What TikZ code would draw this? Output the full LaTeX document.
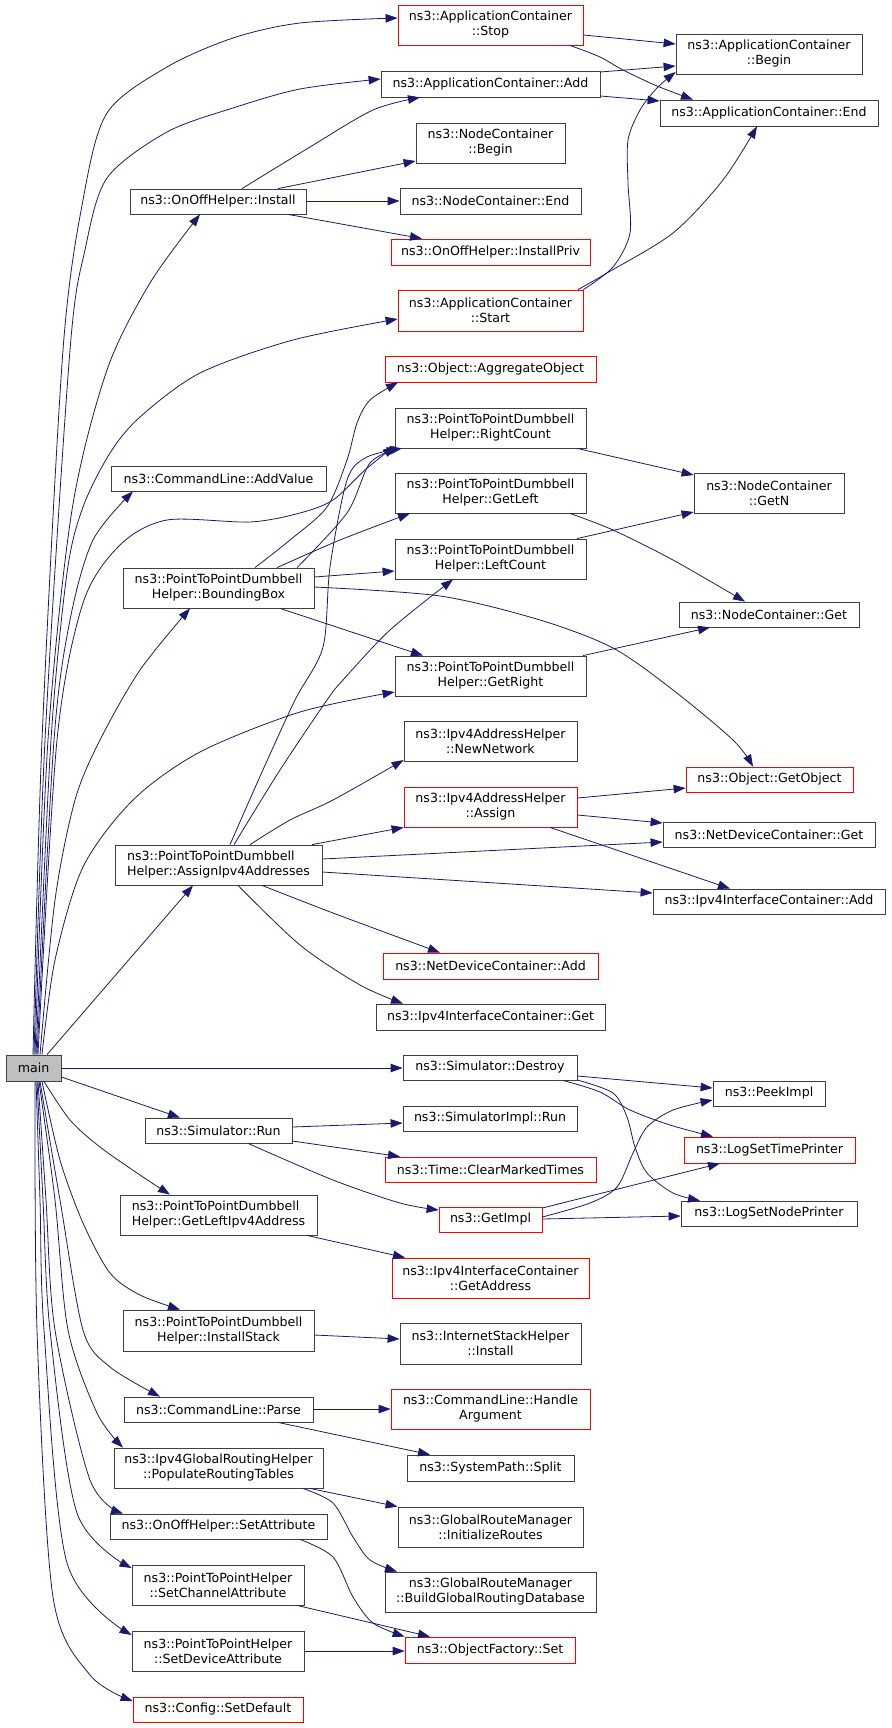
\documentclass[tikz,border=0pt]{standalone}
\usepackage{fontspec}
\setmainfont{DejaVu Sans}
\usetikzlibrary{arrows.meta}
\definecolor{edgeblue}{HTML}{191970}
\definecolor{maingray}{HTML}{BFBFBF}
\tikzset{
  fn/.style 2 args={draw=black!75, line width=0.8pt, fill=white, inner sep=0pt, align=center,
    minimum width=#1pt, minimum height=#2pt, font=\fontsize{12.6}{15}\selectfont},
  fnred/.style 2 args={fn={#1}{#2}, draw=red},
  callarrow/.style={draw=edgeblue, line width=0.8pt, -{Triangle[length=12pt,width=8.5pt]}},
}
\begin{document}
\begin{tikzpicture}[x=1pt,y=-1pt]
               \useasboundingbox (0,0) rectangle (891,1728);
               \node[fn={55}{26}, fill=maingray] (main) at (33.5,1068) {main};
               \node[fnred={185}{40}] (stop) at (490.5,25) {ns3::ApplicationContainer\\::Stop};
               \node[fn={219}{26}] (acadd) at (490.5,84) {ns3::ApplicationContainer::Add};
               \node[fn={186}{40}] (acbegin) at (769,54) {ns3::ApplicationContainer\\::Begin};
               \node[fn={218}{26}] (acend) at (769,113) {ns3::ApplicationContainer::End};
               \node[fn={149}{40}] (ncbegin) at (490.5,143) {ns3::NodeContainer\\::Begin};
               \node[fn={181}{26}] (ncend) at (490.5,201) {ns3::NodeContainer::End};
               \node[fnred={199}{26}] (installpriv) at (490.5,252) {ns3::OnOffHelper::InstallPriv};
               \node[fnred={185}{41}] (start) at (490.5,310.5) {ns3::ApplicationContainer\\::Start};
               \node[fn={176}{25}] (install) at (218,201.5) {ns3::OnOffHelper::Install};
               \node[fnred={211}{26}] (aggobj) at (490.5,369) {ns3::Object::AggregateObject};
               \node[fn={191}{40}] (rightcount) at (490.5,428) {ns3::PointToPointDumbbell\\Helper::RightCount};
               \node[fn={191}{40}] (getleft) at (490.5,493) {ns3::PointToPointDumbbell\\Helper::GetLeft};
               \node[fn={191}{40}] (leftcount) at (490.5,559) {ns3::PointToPointDumbbell\\Helper::LeftCount};
               \node[fn={191}{40}] (getright) at (490.5,676) {ns3::PointToPointDumbbell\\Helper::GetRight};
               \node[fn={215}{25}] (addvalue) at (218.5,478.5) {ns3::CommandLine::AddValue};
               \node[fn={191}{40}] (bbox) at (218.5,588) {ns3::PointToPointDumbbell\\Helper::BoundingBox};
               \node[fn={150}{40}] (getn) at (769,493) {ns3::NodeContainer\\::GetN};
               \node[fn={180}{25}] (ncget) at (769,614.5) {ns3::NodeContainer::Get};
               \node[fn={173}{40}] (newnetwork) at (490.5,741) {ns3::Ipv4AddressHelper\\::NewNetwork};
               \node[fnred={173}{40}] (assign) at (490.5,807) {ns3::Ipv4AddressHelper\\::Assign};
               \node[fnred={167}{25}] (getobject) at (769.5,779.5) {ns3::Object::GetObject};
               \node[fn={212}{25}] (ndcget) at (769,834.5) {ns3::NetDeviceContainer::Get};
               \node[fn={232}{25}] (iicadd) at (769,901.5) {ns3::Ipv4InterfaceContainer::Add};
               \node[fn={207}{40}, align=left] (assignip) at (218.5,865) {ns3::PointToPointDumbbell\\Helper::AssignIpv4Addresses};
               \node[fnred={215}{26}] (ndcadd) at (490.5,966) {ns3::NetDeviceContainer::Add};
               \node[fn={229}{26}] (iicget) at (490.5,1017) {ns3::Ipv4InterfaceContainer::Get};
               \node[fn={174}{25}] (destroy) at (490,1067.5) {ns3::Simulator::Destroy};
               \node[fn={174}{25}] (simimplrun) at (490,1118.5) {ns3::SimulatorImpl::Run};
               \node[fnred={211}{25}] (clearmarked) at (490.5,1169.5) {ns3::Time::ClearMarkedTimes};
               \node[fnred={103}{25}] (getimpl) at (490.5,1219.5) {ns3::GetImpl};
               \node[fnred={197}{40}] (getaddress) at (490.5,1278) {ns3::Ipv4InterfaceContainer\\::GetAddress};
               \node[fn={181}{41}] (ishinstall) at (490.5,1343.5) {ns3::InternetStackHelper\\::Install};
               \node[fn={112}{25}] (peekimpl) at (769,1093.5) {ns3::PeekImpl};
               \node[fnred={171}{26}] (logtime) at (769.5,1150) {ns3::LogSetTimePrinter};
               \node[fn={176}{25}] (lognode) at (769,1213.5) {ns3::LogSetNodePrinter};
               \node[fn={147}{25}] (simrun) at (218.5,1130.5) {ns3::Simulator::Run};
               \node[fn={197}{40}, align=left] (getleftip) at (218.5,1215) {ns3::PointToPointDumbbell\\Helper::GetLeftIpv4Address};
               \node[fn={191}{41}] (installstack) at (218.5,1330.5) {ns3::PointToPointDumbbell\\Helper::InstallStack};
               \node[fn={189}{25}] (parse) at (218.5,1409.5) {ns3::CommandLine::Parse};
               \node[fn={209}{40}] (populate) at (218.5,1468) {ns3::Ipv4GlobalRoutingHelper\\::PopulateRoutingTables};
               \node[fn={217}{25}] (setattr) at (218.5,1526.5) {ns3::OnOffHelper::SetAttribute};
               \node[fn={172}{40}] (setchan) at (218,1585) {ns3::PointToPointHelper\\::SetChannelAttribute};
               \node[fn={172}{40}] (setdev) at (218,1651) {ns3::PointToPointHelper\\::SetDeviceAttribute};
               \node[fnred={170}{25}] (setdefault) at (218,1709.5) {ns3::Config::SetDefault};
               \node[fnred={199}{40}] (handlearg) at (490.5,1409) {ns3::CommandLine::Handle\\Argument};
               \node[fn={167}{26}] (split) at (490.5,1468) {ns3::SystemPath::Split};
               \node[fn={185}{40}] (initroutes) at (490.5,1527) {ns3::GlobalRouteManager\\::InitializeRoutes};
               \node[fn={211}{40}] (buildgrd) at (490.5,1592) {ns3::GlobalRouteManager\\::BuildGlobalRoutingDatabase};
               \node[fnred={170}{26}] (ofset) at (490,1650) {ns3::ObjectFactory::Set};

               \draw[callarrow] plot[smooth] coordinates {(main.north -| 33,0) (42,740) (63,350) (83,200) (107,113) (167,67) (233,38) (300,23) (stop.west |- 0,18)};
               \draw[callarrow] plot[smooth] coordinates {(main.north -| 34,0) (45,740) (70,350) (85,250) (107,178) (167,132) (233,108) (300,89) (acadd.west |- 0,79)};
               \draw[callarrow] plot[smooth] coordinates {(main.north -| 35,0) (48,740) (72,510) (107,370) (150,283) (install.south -| 200,0)};
               \draw[callarrow] plot[smooth] coordinates {(main.north -| 36,0) (51,740) (67,573) (83,507) (110,453) (140,417) (200,373) (293,340) (start.west |- 0,319)};
               \draw[callarrow] plot[smooth] coordinates {(main.north -| 37,0) (54,740) (70,620) (93,540) (addvalue.south -| 133,0)};
               \draw[callarrow] plot[smooth] coordinates {(main.north -| 38,0) (57,740) (83,603) (120,545) (167,520) (250,522) (300,513) (333,500) (365,470) (rightcount.west |- 0,446)};
               \draw[callarrow] plot[smooth] coordinates {(main.north -| 40,0) (55,900) (75,800) (100,740) (140,670) (bbox.south -| 190,0)};
               \draw[callarrow] plot[smooth] coordinates {(main.north -| 42,0) (55,960) (83,867) (133,800) (200,752) (300,712) (getright.west |- 0,692)};
               \draw[callarrow] (main.north -| 47,0) -- (assignip.south -| 193,0);
               \draw[callarrow] (main.east |- 0,1068) -- (destroy.west |- 0,1068);
               \draw[callarrow] (main.east |- 0,1077) -- (simrun.north -| 180,0);
               \draw[callarrow] plot[smooth] coordinates {(main.south -| 44,0) (70,1120) (100,1147) (140,1175) (getleftip.north -| 170,0)};
               \draw[callarrow] plot[smooth] coordinates {(main.south -| 42,0) (60,1160) (83,1223) (110,1273) (140,1295) (installstack.north -| 180,0)};
               \draw[callarrow] plot[smooth] coordinates {(main.south -| 40,0) (60,1200) (83,1330) (110,1367) (parse.north -| 160,0)};
               \draw[callarrow] plot[smooth] coordinates {(main.south -| 39,0) (55,1200) (68,1330) (97,1413) (populate.north -| 123,0)};
               \draw[callarrow] plot[smooth] coordinates {(main.south -| 38,0) (46,1200) (55,1330) (90,1480) (setattr.north -| 123,0)};
               \draw[callarrow] plot[smooth] coordinates {(main.south -| 37,0) (43,1200) (50,1330) (77,1513) (setchan.west |- 0,1568)};
               \draw[callarrow] plot[smooth] coordinates {(main.south -| 36,0) (40,1200) (44,1330) (67,1563) (setdev.west |- 0,1635)};
               \draw[callarrow] plot[smooth] coordinates {(main.south -| 35,0) (37,1330) (53,1597) (90,1675) (setdefault.west |- 0,1701)};

               \draw[callarrow] plot[smooth] coordinates {(install.north -| 242,0) (310,147) (373,110) (acadd.south -| 420,0)};
               \draw[callarrow] (install.north -| 278,0) -- (ncbegin.west |- 0,161);
               \draw[callarrow] (install.east |- 0,201) -- (ncend.west |- 0,201);
               \draw[callarrow] (install.south -| 288,0) -- (installpriv.north -| 422,0);
               \draw[callarrow] (stop.east |- 0,35) -- (acbegin.west |- 0,44);
               \draw[callarrow] plot[smooth] coordinates {(stop.south -| 570,0) (600,57) (623,70) (657,86) (acend.north -| 693,0)};
               \draw[callarrow] (acadd.east |- 0,72) -- (acbegin.west |- 0,66);
               \draw[callarrow] (acadd.east |- 0,96) -- (acend.west |- 0,101);
               \draw[callarrow] plot[smooth] coordinates {(start.north east) (613,267) (630,233) (628,183) (628,140) (640,110) (657,88) (acbegin.west |- 0,72)};
               \draw[callarrow] plot[smooth] coordinates {(start.north -| 578,0) (607,273) (673,233) (723,180) (acend.south -| 757,0)};

               \draw[callarrow] plot[smooth] coordinates {(bbox.north -| 255,0) (290,540) (327,507) (347,460) (357,423) (370,400) (aggobj.south -| 398,0)};
               \draw[callarrow] plot[smooth] coordinates {(bbox.north -| 297,0) (347,513) (370,463) (rightcount.south -| 399,0)};
               \draw[callarrow] plot[smooth] coordinates {(bbox.north -| 277,0) (340,540) (getleft.south -| 410,0)};
               \draw[callarrow] (bbox.east |- 0,577) -- (leftcount.west |- 0,571);
               \draw[callarrow] plot[smooth] coordinates {(bbox.east |- 0,587) (440,596) (540,620) (613,648) (673,690) (733,740) (getobject.north -| 753,0)};
               \draw[callarrow] (bbox.south -| 280,0) -- (getright.north -| 423,0);
               \draw[callarrow] (rightcount.south -| 577,0) -- (getn.west |- 0,475);
               \draw[callarrow] (leftcount.north -| 577,0) -- (getn.west |- 0,512);
               \draw[callarrow] plot[smooth] coordinates {(getleft.south -| 570,0) (613,530) (673,560) (ncget.north -| 745,0)};
               \draw[callarrow] (getright.north -| 583,0) -- (ncget.south -| 710,0);

               \draw[callarrow] plot[smooth] coordinates {(assignip.north -| 230,0) (262,772) (295,700) (323,647) (330,567) (347,480) (367,457) (rightcount.south -| 402,0)};
               \draw[callarrow] plot[smooth] coordinates {(assignip.north -| 234,0) (280,770) (327,700) (343,680) (390,630) (leftcount.south -| 453,0)};
               \draw[callarrow] plot[smooth] coordinates {(assignip.north -| 250,0) (290,820) (333,800) (newnetwork.west |- 0,760)};
               \draw[callarrow] (assignip.north -| 312,0) -- (assign.south west);
               \draw[callarrow] (assignip.east |- 0,859) -- (ndcget.west |- 0,842);
               \draw[callarrow] (assignip.east |- 0,872) -- (iicadd.west |- 0,893);
               \draw[callarrow] plot[smooth] coordinates {(assignip.south -| 262,0) (333,913) (ndcadd.north -| 440,0)};
               \draw[callarrow] plot[smooth] coordinates {(assignip.south -| 238,0) (300,945) (360,985) (iicget.north -| 403,0)};
               \draw[callarrow] (assign.east |- 0,798) -- (getobject.west |- 0,788);
               \draw[callarrow] (assign.east |- 0,815) -- (ndcget.west |- 0,823);
               \draw[callarrow] (assign.south -| 550,0) -- (iicadd.north -| 730,0);

               \draw[callarrow] (simrun.east |- 0,1127) -- (simimplrun.west |- 0,1123);
               \draw[callarrow] (simrun.east |- 0,1141) -- (clearmarked.north -| 400,0);
               \draw[callarrow] plot[smooth] coordinates {(simrun.south -| 248,0) (333,1180) (400,1203) (getimpl.west |- 0,1210)};
               \draw[callarrow] (destroy.east |- 0,1076) -- (peekimpl.west |- 0,1088);
               \draw[callarrow] plot[smooth] coordinates {(destroy.south -| 563,0) (600,1092) (630,1110) (670,1125) (logtime.north -| 713,0)};
               \draw[callarrow] plot[smooth] coordinates {(destroy.east |- 0,1080) (613,1093) (627,1117) (635,1147) (647,1173) (673,1193) (lognode.north -| 700,0)};
               \draw[callarrow] plot[smooth] coordinates {(getimpl.east |- 0,1217) (590,1203) (617,1187) (633,1153) (647,1127) (673,1110) (peekimpl.west |- 0,1100)};
               \draw[callarrow] (getimpl.east |- 0,1208) -- (logtime.south -| 720,0);
               \draw[callarrow] (getimpl.east |- 0,1219) -- (lognode.west |- 0,1216);

               \draw[callarrow] (getleftip.south -| 307,0) -- (getaddress.north -| 405,0);
               \draw[callarrow] (installstack.east |- 0,1335) -- (ishinstall.west |- 0,1339);
               \draw[callarrow] (parse.east |- 0,1409) -- (handlearg.west |- 0,1409);
               \draw[callarrow] (parse.south -| 278,0) -- (split.north -| 430,0);
               \draw[callarrow] (populate.south -| 310,0) -- (initroutes.north west);
               \draw[callarrow] plot[smooth] coordinates {(populate.south -| 303,0) (333,1503) (353,1537) (370,1560) (buildgrd.north -| 397,0)};
               \draw[callarrow] plot[smooth] coordinates {(setattr.south -| 300,0) (333,1557) (353,1597) (373,1623) (ofset.north west)};
               \draw[callarrow] (setchan.south -| 297,0) -- (ofset.north -| 430,0);
               \draw[callarrow] (setdev.east |- 0,1651) -- (ofset.west |- 0,1651);
            \end{tikzpicture}
\end{document}
